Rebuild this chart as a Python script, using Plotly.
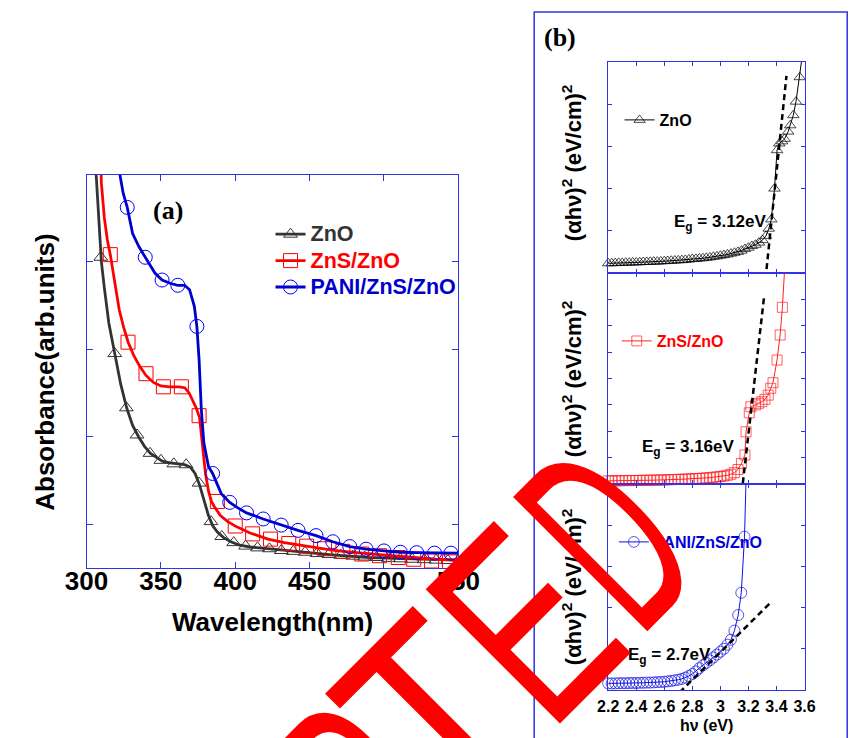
import plotly.graph_objects as go

W, H = 855, 738

# ---------------- Panel (a): absorbance spectra ----------------
zno_wl = [304, 306, 308, 310, 312, 315, 319, 323, 327, 331, 335, 339, 343, 347, 351, 356, 361, 366,
          370, 373, 376, 379, 382, 385, 388, 392, 397, 403, 410, 420, 435, 450, 465, 490, 510, 530, 550]
zno_abs = [5.2, 4.6, 4.1, 3.5, 3.2, 2.8, 2.45, 2.1, 1.83, 1.63, 1.5, 1.39, 1.31, 1.26, 1.22, 1.2, 1.19, 1.18,
           1.15, 1.08, 0.95, 0.78, 0.6, 0.48, 0.41, 0.35, 0.3, 0.26, 0.24, 0.225, 0.2, 0.17, 0.15, 0.12, 0.11, 0.1, 0.09]
zno_mk_wl = [309.6, 319, 326.8, 334, 342.7, 350, 358.7, 367, 375.7, 383.7, 391, 399, 407, 415, 423, 431, 439,
             447, 455, 463, 471, 479, 487, 495, 503, 511, 519, 527, 535, 543]
zno_mk_abs = [3.55, 2.45, 1.83, 1.52, 1.31, 1.23, 1.19, 1.18, 0.97, 0.53, 0.36, 0.29, 0.25, 0.23, 0.22, 0.2, 0.19,
              0.18, 0.165, 0.155, 0.145, 0.135, 0.125, 0.12, 0.11, 0.105, 0.1, 0.095, 0.09, 0.085]

zns_wl = [308, 310, 312, 314, 316, 319, 322, 325, 328, 332, 336, 340, 345, 350, 356, 362, 366, 369, 372, 374,
          376, 377, 378, 379, 380, 382, 384, 386, 390, 395, 401, 410, 422, 433, 444, 455, 465, 476, 486, 497,
          507, 520, 535, 550]
zns_abs = [5.5, 4.4, 4.0, 3.75, 3.58, 3.25, 2.95, 2.75, 2.58, 2.42, 2.3, 2.2, 2.12, 2.08, 2.07, 2.07, 2.06, 2.0,
           1.9, 1.82, 1.72, 1.55, 1.35, 1.2, 1.08, 0.88, 0.76, 0.7, 0.6, 0.53, 0.47, 0.4, 0.33, 0.29, 0.26, 0.23,
           0.205, 0.185, 0.168, 0.15, 0.137, 0.12, 0.1, 0.09]
zns_mk_wl = [316, 327.9, 340, 351.7, 363.8, 375.7, 388, 400, 411.7, 423.7, 436, 448, 460, 472.4, 485, 497,
             509.6, 520, 532, 544]
zns_mk_abs = [3.58, 2.58, 2.22, 2.07, 2.07, 1.74, 0.76, 0.48, 0.39, 0.33, 0.28, 0.25, 0.22, 0.19, 0.16, 0.14,
              0.12, 0.1, 0.08, 0.07]

pani_wl = [320, 322.5, 324.7, 327.4, 331, 335.3, 339.5, 346, 350.8, 356.6, 361.4, 366, 369.3, 372.5, 374.2,
           375.7, 377.2, 378.9, 382, 384.8, 390.6, 396.3, 401.5, 407.6, 418.8, 430.9, 442.2, 454.3, 465.6, 477,
           488, 500, 511, 522, 534, 550]
pani_abs = [5.2, 4.49, 4.28, 4.12, 3.82, 3.67, 3.55, 3.37, 3.29, 3.25, 3.23, 3.23, 3.18, 2.99, 2.76, 2.38,
            1.81, 1.43, 1.16, 1.08, 0.85, 0.75, 0.69, 0.63, 0.56, 0.49, 0.43, 0.37, 0.3, 0.245, 0.215, 0.195,
            0.18, 0.175, 0.17, 0.17]
pani_mk_wl = [327.4, 339.5, 350.8, 361.4, 374.2, 384.8, 396.3, 407.6, 418.8, 430.9, 442.2, 454.3, 465.6, 477,
              488, 500, 511, 522, 534, 545]
pani_mk_abs = [4.12, 3.55, 3.29, 3.23, 2.76, 1.08, 0.75, 0.63, 0.56, 0.49, 0.43, 0.37, 0.3, 0.245, 0.215,
               0.195, 0.18, 0.175, 0.17, 0.17]

wl_ticks = [300, 350, 400, 450, 500, 550]

# ---------------- Panel (b): Tauc plots ----------------
zno_hv = [2.200, 2.225, 2.250, 2.275, 2.300, 2.325, 2.350, 2.375, 2.400, 2.425, 2.450, 2.475, 2.500, 2.525,
          2.550, 2.575, 2.600, 2.625, 2.650, 2.675, 2.700, 2.725, 2.750, 2.775, 2.800, 2.825, 2.850, 2.875,
          2.900, 2.925, 2.950, 2.975, 3.000, 3.025, 3.050, 3.075, 3.100, 3.125, 3.150, 3.175, 3.200, 3.225,
          3.250, 3.275, 3.300, 3.325, 3.345, 3.363, 3.386, 3.404, 3.420, 3.440, 3.458, 3.483, 3.498, 3.520,
          3.539, 3.566, 3.590]
zno_tauc = [0.23, 0.23, 0.235, 0.24, 0.24, 0.245, 0.245, 0.25, 0.25, 0.255, 0.26, 0.26, 0.265, 0.27,
            0.27, 0.275, 0.28, 0.285, 0.29, 0.295, 0.30, 0.305, 0.31, 0.32, 0.33, 0.335, 0.345, 0.35,
            0.36, 0.37, 0.385, 0.395, 0.41, 0.425, 0.44, 0.46, 0.48, 0.50, 0.53, 0.57, 0.60, 0.64,
            0.67, 0.72, 0.78, 0.88, 1.05, 1.27, 2.0, 2.91, 3.07, 3.12, 3.18, 3.35, 3.5, 3.74,
            4.06, 4.64, 5.3]

zns_hv = [2.200, 2.225, 2.250, 2.275, 2.300, 2.325, 2.350, 2.375, 2.400, 2.425, 2.450, 2.475, 2.500, 2.525,
          2.550, 2.575, 2.600, 2.625, 2.650, 2.675, 2.700, 2.725, 2.750, 2.775, 2.800, 2.825, 2.850, 2.875,
          2.900, 2.925, 2.950, 2.975, 3.000, 3.025, 3.050, 3.075, 3.100, 3.125, 3.150, 3.175, 3.183, 3.206,
          3.217, 3.250, 3.273, 3.296, 3.318, 3.341, 3.359, 3.375, 3.404, 3.426, 3.442, 3.462]
zns_tauc = [0.12, 0.12, 0.12, 0.125, 0.125, 0.13, 0.13, 0.13, 0.135, 0.135, 0.14, 0.14, 0.145, 0.145,
            0.15, 0.15, 0.155, 0.16, 0.165, 0.17, 0.175, 0.18, 0.185, 0.19, 0.20, 0.205, 0.21, 0.22,
            0.23, 0.24, 0.255, 0.27, 0.285, 0.30, 0.33, 0.37, 0.43, 0.55, 0.78, 1.1, 1.98, 2.7,
            2.93, 3.0, 3.06, 3.12, 3.21, 3.37, 3.63, 3.84, 4.7, 5.65, 6.7, 8.5]

pani_hv = [2.200, 2.225, 2.250, 2.275, 2.300, 2.325, 2.350, 2.375, 2.400, 2.425, 2.450, 2.475, 2.500, 2.525,
           2.550, 2.575, 2.600, 2.625, 2.650, 2.675, 2.700, 2.725, 2.750, 2.775, 2.800, 2.825, 2.850, 2.875,
           2.900, 2.925, 2.950, 2.975, 3.000, 3.025, 3.050, 3.075, 3.100, 3.127, 3.149, 3.172, 3.185]
pani_tauc = [0.16, 0.16, 0.16, 0.165, 0.165, 0.165, 0.17, 0.17, 0.17, 0.175, 0.175, 0.18, 0.18, 0.185,
             0.19, 0.195, 0.20, 0.21, 0.22, 0.235, 0.25, 0.27, 0.30, 0.34, 0.39, 0.45, 0.53, 0.60,
             0.66, 0.72, 0.79, 0.86, 0.93, 1.0, 1.1, 1.22, 1.44, 1.82, 2.36, 3.72, 5.4]

# linear-fit (Tauc extrapolation) dashed lines, end points
zno_fit_hv, zno_fit_y = [3.329, 3.471], [0.09, 4.67]
zns_fit_hv, zns_fit_y = [3.16, 3.311], [0.03, 7.08]
pani_fit_hv, pani_fit_y = [2.709, 3.352], [-0.06, 2.1]

hv_ticks = [2.2, 2.4, 2.6, 2.8, 3.0, 3.2, 3.4, 3.6]
hv_ticktext = ["2.2", "2.4", "2.6", "2.8", "3", "3.2", "3.4", "3.6"]

series_names = ["ZnO", "ZnS/ZnO", "PANI/ZnS/ZnO"]
gap_labels = ["E<sub>g</sub> = 3.12eV", "E<sub>g</sub> = 3.16eV", "E<sub>g</sub> = 2.7eV"]

# ---------------- styling ----------------
FONT = "Liberation Sans, Arial, sans-serif"
SERIF = "Liberation Serif, Times New Roman, serif"
AX = "#3232e6"
C_ZNO, C_ZNS, C_PANI = "#333333", "#ff0000", "#0000cc"


def fx(px):
    return px / W


def fy(py):
    return 1 - py / H


fig = go.Figure()

# Panel (a) curves and markers
for wl, ab, mwl, mab, col, sym, name in [
    (zno_wl, zno_abs, zno_mk_wl, zno_mk_abs, C_ZNO, "triangle-up-open", series_names[0]),
    (zns_wl, zns_abs, zns_mk_wl, zns_mk_abs, C_ZNS, "square-open", series_names[1]),
    (pani_wl, pani_abs, pani_mk_wl, pani_mk_abs, C_PANI, "circle-open", series_names[2]),
]:
    msize = {"triangle-up-open": 12, "square-open": 14, "circle-open": 14}[sym]
    mcol = "#0000ff" if col == C_PANI else col
    fig.add_trace(go.Scatter(x=wl, y=ab, mode="lines", line=dict(color=col, width=2.8),
                             showlegend=False, hoverinfo="skip", xaxis="x", yaxis="y"))
    fig.add_trace(go.Scatter(x=mwl, y=mab, mode="markers",
                             marker=dict(symbol=sym, size=msize, color=mcol, line=dict(width=1, color=mcol)),
                             showlegend=False, hoverinfo="skip", xaxis="x", yaxis="y"))
    # legend entry (no data points)
    fig.add_trace(go.Scatter(x=[None], y=[None], mode="lines+markers",
                             name=f'<span style="color:{col};font-size:21.5px">{name}</span>',
                             line=dict(color=col, width=2.8),
                             marker=dict(symbol=sym, size=msize, color=mcol, line=dict(width=1, color=mcol)),
                             legend="legend", xaxis="x", yaxis="y"))

# Panel (b) Tauc curves
b_sets = [
    (zno_hv, zno_tauc, zno_fit_hv, zno_fit_y, "#000000", "triangle-up-open", 10, "x2", "y2", "legend2"),
    (zns_hv, zns_tauc, zns_fit_hv, zns_fit_y, "#ff2020", "square-open", 10, "x3", "y3", "legend3"),
    (pani_hv, pani_tauc, pani_fit_hv, pani_fit_y, "#1010e0", "circle-open", 11, "x4", "y4", "legend4"),
]
for i, (hv, ty, fhv, fyv, col, sym, ms, xa, ya, lg) in enumerate(b_sets):
    sizes = [ms] * (len(hv) - 1) + [0]
    fig.add_trace(go.Scatter(x=hv, y=ty, mode="lines+markers", name=series_names[i],
                             line=dict(color=col, width=1),
                             marker=dict(symbol=sym, size=sizes, color=col, line=dict(width=1, color=col)),
                             cliponaxis=False, legend=lg, xaxis=xa, yaxis=ya, hoverinfo="skip"))
    fig.add_trace(go.Scatter(x=fhv, y=fyv, mode="lines", line=dict(color="#000000", width=2.5, dash="6px,4px"),
                             showlegend=False, xaxis=xa, yaxis=ya, hoverinfo="skip"))

axis_common = dict(showline=True, linecolor=AX, linewidth=1, mirror="ticks", ticks="inside",
                   tickcolor=AX, tickwidth=1, showgrid=False, zeroline=False)

# domains (pixel measured)
xa_dom = [fx(68), fx(460)]
ya_dom = [fy(568), fy(175)]
xb_dom = [fx(618), fx(825)]
yb_doms = [[fy(273), fy(62)], [fy(484), fy(273)], [fy(690), fy(484)]]

fig.update_layout(
    width=W, height=H, margin=dict(l=0, r=0, t=0, b=0),
    paper_bgcolor="white", plot_bgcolor="white",
    xaxis=dict(domain=xa_dom, range=[300, 550], tickvals=wl_ticks, ticklen=6, anchor="y",
               tickfont=dict(family=FONT, size=26, color="black", weight="bold"),
               ticklabelstandoff=-10, **axis_common),
    yaxis=dict(domain=ya_dom, range=[0, 4.49], tickvals=[0.5, 1.5, 2.5, 3.5], ticklen=6,
               showticklabels=False, anchor="x", **axis_common),
    xaxis2=dict(domain=xb_dom, range=[2.2, 3.6], tickvals=hv_ticks, ticklen=4, showticklabels=False,
                anchor="y2", **axis_common),
    yaxis2=dict(domain=yb_doms[0], range=[0, 5], dtick=1, ticklen=4, showticklabels=False, anchor="x2",
                **axis_common),
    xaxis3=dict(domain=xb_dom, range=[2.2, 3.6], tickvals=hv_ticks, ticklen=4, showticklabels=False,
                anchor="y3", **axis_common),
    yaxis3=dict(domain=yb_doms[1], range=[0, 8], dtick=1, ticklen=4, showticklabels=False, anchor="x3",
                **axis_common),
    xaxis4=dict(domain=xb_dom, range=[2.2, 3.6], tickvals=hv_ticks, ticktext=hv_ticktext, ticklen=4,
                anchor="y4", tickfont=dict(family=FONT, size=16, color="black", weight="bold"),
                ticklabelstandoff=2, **axis_common),
    yaxis4=dict(domain=yb_doms[2], range=[0, 5], dtick=1, ticklen=4, showticklabels=False, anchor="x4",
                **axis_common),
    legend=dict(x=fx(262), y=fy(261), xanchor="left", yanchor="middle", bgcolor="rgba(0,0,0,0)",
                font=dict(family=FONT, size=18, weight="bold"), tracegroupgap=0),
    legend2=dict(x=fx(630), y=fy(120), xanchor="left", yanchor="middle", bgcolor="rgba(0,0,0,0)",
                 font=dict(family=FONT, size=16, weight="bold", color="#000000")),
    legend3=dict(x=fx(627), y=fy(341), xanchor="left", yanchor="middle", bgcolor="rgba(0,0,0,0)",
                 font=dict(family=FONT, size=16, weight="bold", color="#ff0000")),
    legend4=dict(x=fx(624), y=fy(542), xanchor="left", yanchor="middle", bgcolor="rgba(0,0,0,0)",
                 font=dict(family=FONT, size=16, weight="bold", color="#0000dd")),
)

# frame around panel (b)
fig.add_shape(type="rect", xref="paper", yref="paper", x0=fx(540), x1=fx(870), y0=fy(760), y1=fy(12),
              line=dict(color=AX, width=1.5), fillcolor="rgba(0,0,0,0)", layer="above")

ann = []
ann.append(dict(text="(a)", x=fx(153.5), y=fy(210), font=dict(family=SERIF, size=26, weight="bold", color="black")))
ann.append(dict(text="(b)", x=fx(567), y=fy(37), font=dict(family=SERIF, size=26, weight="bold", color="black")))
ann.append(dict(text="Wavelength(nm)", x=fx(264), y=fy(622),
                font=dict(family=FONT, size=26, weight="bold", color="black")))
ann.append(dict(text="Absorbance(arb.units)", x=fx(24), y=fy(372), textangle=-90,
                font=dict(family=FONT, size=26, weight="bold", color="black")))
ann.append(dict(text="h\u03bd (eV)", x=fx(722), y=fy(725),
                font=dict(family=FONT, size=16, weight="bold", color="black")))
for cy in [163, 379, 587]:
    ann.append(dict(text="(\u03b1h\u03bd)<sup>2</sup> (eV/cm)<sup>2</sup>", x=fx(580), y=fy(cy), textangle=-90,
                    font=dict(family=FONT, size=22, weight="bold", color="black")))
for (lx, cy), txt in zip([(685, 223), (652, 448), (637, 656)], gap_labels):
    ann.append(dict(text=txt, x=fx(lx), y=fy(cy), xanchor="left",
                    font=dict(family=FONT, size=17, weight="bold", color="black")))

# "ACCEPTED" stamp letters visible on the page (red, rotated)
for ch, cx, cy in [("P", 357, 795), ("T", 436, 716), ("E", 530, 623), ("D", 616.5, 536)]:
    ann.append(dict(text=ch, x=fx(cx), y=fy(cy), textangle=-45,
                    font=dict(family=FONT, size=276, color="#ff0000")))

for a in ann:
    a.setdefault("xref", "paper")
    a.setdefault("yref", "paper")
    a.setdefault("showarrow", False)
    a.setdefault("xanchor", "center")
    a.setdefault("yanchor", "middle")
fig.update_layout(annotations=ann)

post = """
var gd = document.getElementById('{plot_id}');
var sc = {"P": 0.6, "T": 0.795, "E": 0.67, "D": 0.5};
function squeeze(){
  gd.querySelectorAll('text.annotation-text').forEach(function(t){
    var c = t.textContent;
    if (c.length !== 1 || !(c in sc)) return;
    var bb = t.getBBox();
    var cx = bb.x + bb.width / 2;
    t.setAttribute('transform', 'translate(' + cx + ',0) scale(' + sc[c] + ',1) translate(' + (-cx) + ',0)');
  });
}
squeeze();
gd.on('plotly_afterplot', squeeze);
"""

fig.write_html("out.html", post_script=post)
